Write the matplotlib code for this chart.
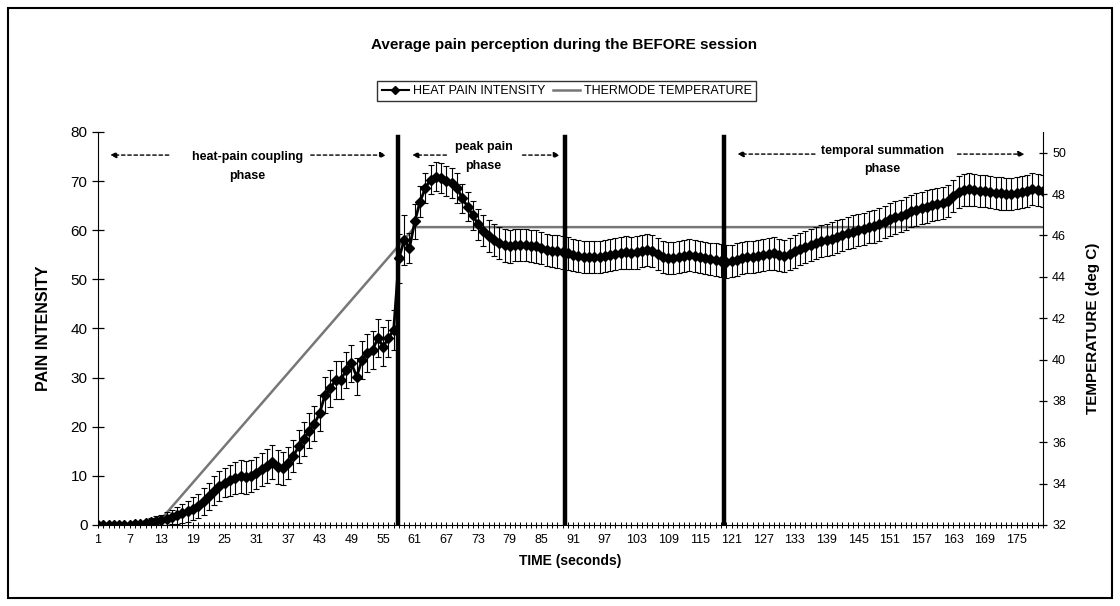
import numpy as np
import matplotlib.pyplot as plt
from matplotlib.lines import Line2D
from matplotlib.patches import Rectangle

plt.rcParams['font.family'] = ['Liberation Sans', 'DejaVu Sans']

# time in seconds (categories 1..180)
seconds = list(range(1, 181))

# mean heat pain intensity
pain = [
    0.0, 0.0, 0.0, 0.0, 0.0, 0.0, 0.0, 0.1, 0.2, 0.4,
    0.7, 0.9, 1.0, 1.3, 1.6, 2.0, 2.4, 2.8, 3.3, 3.9,
    4.8, 5.8, 7.0, 7.9, 8.6, 9.1, 9.6, 9.9, 9.7, 10.0,
    10.6, 11.3, 12.0, 12.8, 11.8, 11.5, 12.6, 14.0, 16.0, 17.5,
    19.2, 20.6, 22.8, 26.5, 27.8, 29.5, 29.5, 31.6, 32.9, 30.2,
    33.6, 35.0, 35.6, 38.0, 36.3, 38.0, 39.7, 54.3, 58.0, 56.4,
    61.8, 65.8, 68.6, 70.3, 70.9, 70.6, 70.0, 69.6, 68.6, 66.5,
    64.8, 63.0, 61.2, 59.9, 58.8, 58.0, 57.4, 56.9, 56.7, 57.0,
    57.0, 57.0, 56.8, 56.7, 56.4, 56.0, 55.8, 55.7, 55.5, 55.3,
    55.0, 54.8, 54.6, 54.5, 54.5, 54.6, 54.7, 55.0, 55.2, 55.4,
    55.5, 55.4, 55.5, 55.8, 56.0, 55.8, 55.2, 54.6, 54.3, 54.4,
    54.6, 54.8, 55.0, 54.8, 54.5, 54.3, 54.2, 54.0, 53.8, 53.6,
    53.7, 54.0, 54.3, 54.5, 54.6, 54.7, 55.0, 55.2, 55.3, 55.0,
    54.7, 55.2, 55.7, 56.2, 56.6, 57.0, 57.4, 57.8, 58.0, 58.3,
    58.7, 59.0, 59.4, 59.7, 60.0, 60.3, 60.6, 60.8, 61.2, 61.7,
    62.2, 62.6, 62.9, 63.4, 63.9, 64.2, 64.5, 64.8, 65.1, 65.3,
    65.6, 65.9, 67.0, 67.8, 68.2, 68.3, 68.2, 68.0, 68.0, 67.8,
    67.6, 67.5, 67.4, 67.4, 67.6, 67.8, 68.0, 68.4, 68.2, 68.0,
]

# standard error of the pain ratings
pain_err = [
    0.3, 0.3, 0.3, 0.3, 0.3, 0.3, 0.3, 0.4, 0.5, 0.6,
    0.8, 1.0, 1.1, 1.3, 1.5, 1.7, 1.9, 2.1, 2.3, 2.5,
    2.7, 2.8, 3.0, 3.0, 3.0, 3.1, 3.2, 3.3, 3.3, 3.3,
    3.3, 3.3, 3.4, 3.5, 3.5, 3.3, 3.3, 3.3, 3.4, 3.5,
    3.5, 3.6, 3.6, 3.7, 3.8, 3.8, 3.8, 3.7, 3.8, 3.8,
    3.8, 3.8, 3.8, 3.9, 4.0, 3.8, 4.0, 5.0, 5.0, 3.0,
    3.5, 3.2, 3.0, 3.0, 3.0, 3.0, 3.0, 3.0, 3.0, 3.0,
    3.0, 3.0, 3.2, 3.2, 3.2, 3.3, 3.3, 3.3, 3.3, 3.3,
    3.3, 3.3, 3.3, 3.3, 3.3, 3.3, 3.3, 3.3, 3.3, 3.3,
    3.3, 3.3, 3.3, 3.3, 3.3, 3.3, 3.3, 3.3, 3.3, 3.3,
    3.3, 3.3, 3.3, 3.3, 3.3, 3.3, 3.3, 3.3, 3.3, 3.3,
    3.3, 3.3, 3.3, 3.3, 3.3, 3.3, 3.3, 3.3, 3.3, 3.3,
    3.3, 3.3, 3.3, 3.3, 3.3, 3.3, 3.3, 3.3, 3.3, 3.3,
    3.3, 3.3, 3.3, 3.3, 3.3, 3.3, 3.3, 3.3, 3.3, 3.3,
    3.3, 3.3, 3.3, 3.3, 3.3, 3.3, 3.3, 3.3, 3.3, 3.3,
    3.3, 3.3, 3.3, 3.3, 3.3, 3.3, 3.3, 3.3, 3.3, 3.3,
    3.3, 3.3, 3.3, 3.3, 3.3, 3.3, 3.3, 3.3, 3.3, 3.3,
    3.3, 3.3, 3.3, 3.3, 3.3, 3.3, 3.3, 3.3, 3.3, 3.3,
]

# thermode temperature (corner points of the ramp)
temp_time = [1, 12, 61, 180]
temp_deg = [32.0, 32.0, 46.4, 46.4]

# phase boundaries and labels
boundaries = [57.8, 89.5, 119.5]
phase_labels = ['heat-pain coupling\nphase', 'peak pain\nphase', 'temporal summation\nphase']

fig = plt.figure(figsize=(11.2, 6.06), dpi=100)
ax = fig.add_axes([0.0875, 0.1337, 0.8438, 0.6485])
ax2 = ax.twinx()

# thermode temperature on right axis
ax2.plot(temp_time, temp_deg, color='#777777', lw=1.8, zorder=1)
ax2.set_ylim(32, 51)
ax2.set_yticks(range(32, 51, 2))

# pain ratings with error bars
ax.set_zorder(ax2.get_zorder() + 1)
ax.patch.set_visible(False)
ax.errorbar(seconds, pain, yerr=pain_err, color='black', lw=2.0, marker='D', ms=5.5,
            ecolor='black', elinewidth=0.8, capsize=2.2, capthick=0.8)

for b in boundaries:
    ax.plot([b, b], [0, 79], color='black', lw=3.2)

ax.set_xlim(1, 180)
ax.set_ylim(0, 80)
ax.set_yticks(range(0, 81, 10))
ax.set_xticks(seconds)
ax.set_xticklabels([str(s) if (s - 1) % 6 == 0 else '' for s in seconds])

for a in (ax, ax2):
    a.spines['top'].set_visible(False)
ax.spines['right'].set_visible(False)
ax2.spines['left'].set_visible(False)
ax2.spines['bottom'].set_visible(False)
ax.tick_params(axis='x', direction='inout', length=5, width=0.7, labelsize=9, pad=4)
ax.tick_params(axis='y', direction='inout', length=8, width=0.9, labelsize=11)
ax2.tick_params(axis='y', direction='inout', length=6, width=0.9, labelsize=9)

ax.set_ylabel('PAIN INTENSITY', fontsize=11.5, fontweight='bold', labelpad=14)
ax2.set_ylabel('TEMPERATURE (deg C)', fontsize=11, fontweight='bold', labelpad=14)
ax.set_xlabel('TIME (seconds)', fontsize=10, fontweight='bold', labelpad=6)

# phase annotations with dashed arrows
arrow_kw = dict(arrowstyle='-|>', linestyle=(0, (2.5, 2)), color='black', lw=1,
                mutation_scale=9, shrinkA=0, shrinkB=0)
text_kw = dict(ha='center', va='center', fontsize=9, fontweight='bold', linespacing=1.7)

ax.annotate('', xy=(3.3, 75.3), xytext=(14.4, 75.3), arrowprops=arrow_kw)
ax.annotate('', xy=(55.6, 75.3), xytext=(41.3, 75.3), arrowprops=arrow_kw)
ax.text(29.3, 73.0, phase_labels[0], **text_kw)

ax.annotate('', xy=(60.5, 75.3), xytext=(67.0, 75.3), arrowprops=arrow_kw)
ax.annotate('', xy=(88.5, 75.3), xytext=(81.4, 75.3), arrowprops=arrow_kw)
ax.text(74.0, 75.0, phase_labels[1], **text_kw)

ax.annotate('', xy=(122.1, 75.5), xytext=(136.8, 75.5), arrowprops=arrow_kw)
ax.annotate('', xy=(176.5, 75.5), xytext=(163.8, 75.5), arrowprops=arrow_kw)
ax.text(149.5, 74.3, phase_labels[2], **text_kw)

fig.text(0.504, 0.926, 'Average pain perception during the BEFORE session',
         ha='center', va='center', fontsize=11, fontweight='bold')

handles = [Line2D([], [], color='black', lw=1.5, marker='D', ms=4.5),
           Line2D([], [], color='#777777', lw=1.8)]
fig.legend(handles, ['HEAT PAIN INTENSITY', 'THERMODE TEMPERATURE'], ncol=2,
           loc='center', bbox_to_anchor=(0.506, 0.85), fontsize=9, frameon=True,
           fancybox=False, edgecolor='black', handlelength=2.2, handletextpad=0.3,
           columnspacing=0.6, borderpad=0.35, borderaxespad=0)

# chart border
fig.patches.append(Rectangle((0.007, 0.013), 0.986, 0.974, transform=fig.transFigure,
                             fill=False, edgecolor='black', lw=1.5))

fig.savefig('out.png', dpi=100)
